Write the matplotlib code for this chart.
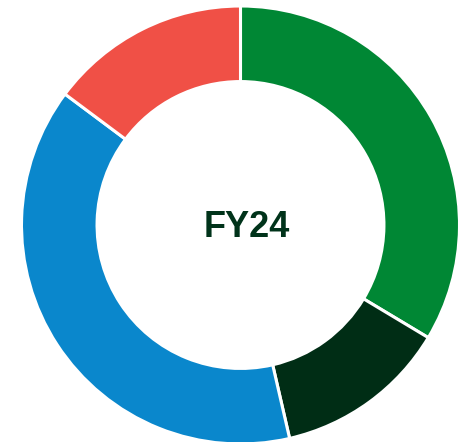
import matplotlib
matplotlib.use("Agg")
import matplotlib.pyplot as plt

labels = ["Segment A", "Segment B", "Segment C", "Segment D"]
values = [33.6, 12.8, 38.8, 14.8]
colors = ["#008734", "#002d15", "#0a87cc", "#f05046"]
center_label = "FY24"

R = 219.0
cx, cy = 240.5, 225.0
W, H = 469, 442

fig = plt.figure(figsize=(W / 100, H / 100), dpi=100)
ax = fig.add_axes([0, 0, 1, 1])
ax.pie(values, colors=colors, startangle=90, counterclock=False,
       radius=1.0, wedgeprops=dict(width=0.345, edgecolor="white", linewidth=2.2))
ax.set_aspect("auto")
ax.set_xlim(-cx / R, (W - cx) / R)
ax.set_ylim(-(H - cy) / R, cy / R)
ax.axis("off")
ax.text((247 - cx) / R, (cy - 237) / R, center_label, ha="center", va="baseline",
        fontsize=26, fontweight="bold", color="#00331a", family="Liberation Sans")
fig.savefig("out.png", dpi=100)
